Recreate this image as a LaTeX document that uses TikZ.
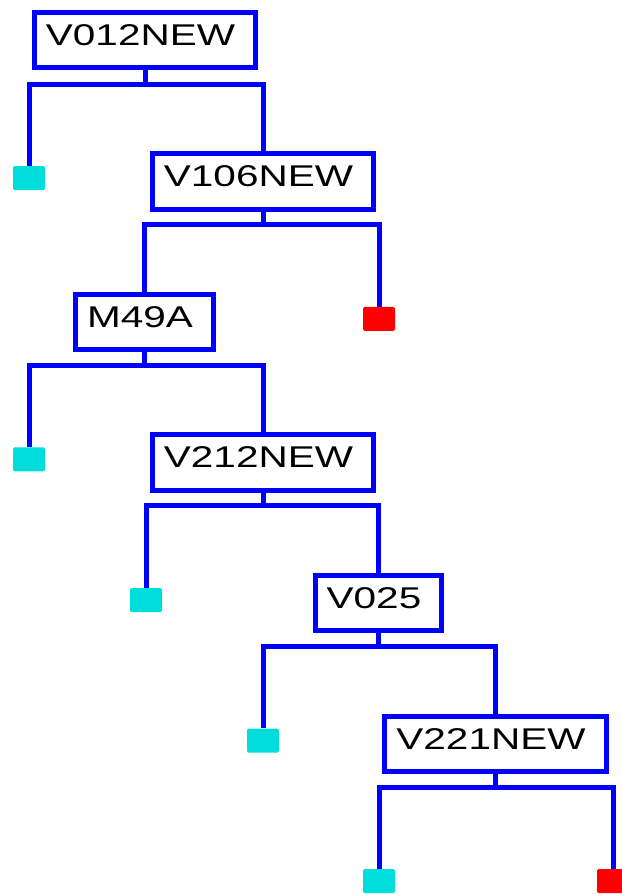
\documentclass[tikz,border=0pt]{standalone}
\usepackage{fontspec}
\setmainfont{Liberation Sans}
\definecolor{treeblue}{RGB}{0,0,255}
\definecolor{leafcyan}{RGB}{0,221,221}
\definecolor{leafred}{RGB}{255,0,0}
\newcommand{\boxlabel}[1]{\scalebox{1.35}[1]{#1}\kern9pt\null}
\begin{document}
\begin{tikzpicture}[x=1pt,y=-1pt,
  splitbox/.style={draw=treeblue, line width=5pt, fill=white, rectangle,
    font=\fontsize{30}{36}\selectfont, text height=21.5pt, text depth=11pt,
    inner xsep=11.5pt, inner ysep=11.5pt, anchor=north},
  leafbox/.style={rectangle, minimum width=32pt, minimum height=24pt,
    inner sep=0pt, anchor=north, rounded corners=1.5pt},
  goodleaf/.style={leafbox, fill=leafcyan},
  badleaf/.style={leafbox, fill=leafred},
  conn/.style={draw=treeblue, line width=5pt, line join=miter}]
\useasboundingbox (0,0) rectangle (621,894);
% split nodes
\node[splitbox] (n0) at (145,9.5) {\boxlabel{V012NEW}};
\node[splitbox] (n1) at (263,151.1) {\boxlabel{V106NEW}};
\node[splitbox] (n2) at (144.5,291.7) {\boxlabel{M49A}};
\node[splitbox] (n3) at (263,432.3) {\boxlabel{V212NEW}};
\node[splitbox] (n4) at (378.5,572.9) {\boxlabel{V025}};
\node[splitbox] (n5) at (495.5,713.5) {\boxlabel{V221NEW}};
% leaves
\node[goodleaf] (l0) at (29,166) {};
\node[badleaf] (l1) at (379,306.6) {};
\node[goodleaf] (l2) at (29,447.2) {};
\node[goodleaf] (l3) at (146,587.8) {};
\node[goodleaf] (l4) at (263,728.4) {};
\node[goodleaf] (l5) at (379,869) {};
\node[badleaf] (l6) at (613,869) {};
% bar points
\coordinate (b0) at (145,84);
\coordinate (b1) at (263,224.6);
\coordinate (b2) at (144.5,365.2);
\coordinate (b3) at (263,505.8);
\coordinate (b4) at (378.5,646.4);
\coordinate (b5) at (495.5,787);
% connectors
\draw[conn] (n0.south) -- (b0);
\draw[conn] (b0) -| (l0.north);
\draw[conn] (b0) -| (n1.north);
\draw[conn] (n1.south) -- (b1);
\draw[conn] (b1) -| (n2.north);
\draw[conn] (b1) -| (l1.north);
\draw[conn] (n2.south) -- (b2);
\draw[conn] (b2) -| (l2.north);
\draw[conn] (b2) -| (n3.north);
\draw[conn] (n3.south) -- (b3);
\draw[conn] (b3) -| (l3.north);
\draw[conn] (b3) -| (n4.north);
\draw[conn] (n4.south) -- (b4);
\draw[conn] (b4) -| (l4.north);
\draw[conn] (b4) -| (n5.north);
\draw[conn] (n5.south) -- (b5);
\draw[conn] (b5) -| (l5.north);
\draw[conn] (b5) -| (l6.north);
\end{tikzpicture}
\end{document}
